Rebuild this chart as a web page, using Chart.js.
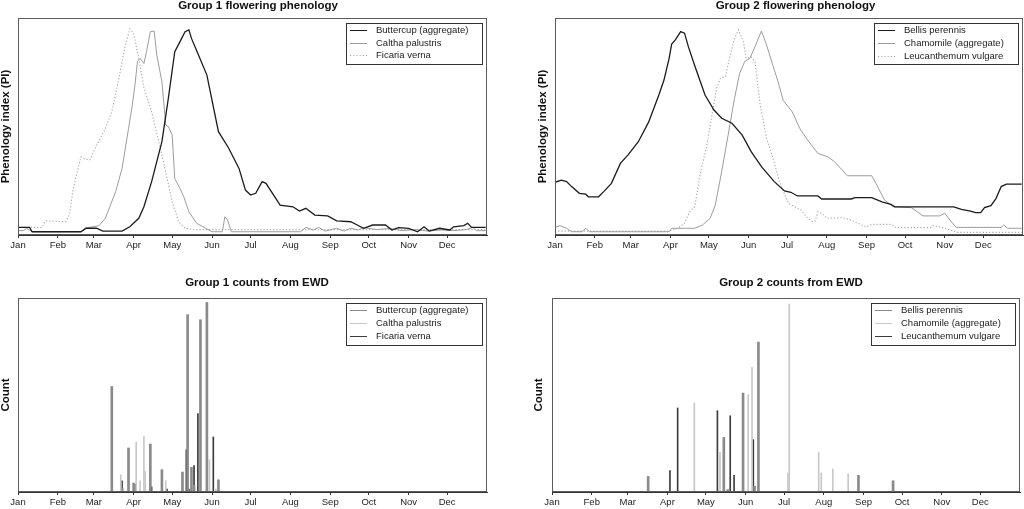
<!DOCTYPE html>
<html>
<head>
<meta charset="utf-8">
<title>Flowering phenology</title>
<script src="https://cdn.jsdelivr.net/npm/chart.js@4.4.1/dist/chart.umd.min.js"></script>
<style>
  html, body { margin: 0; padding: 0; background: #fff; overflow: hidden; }
  #page { position: relative; width: 1024px; height: 509px; overflow: hidden; }
  canvas { position: absolute; }
</style>
</head>
<body>
<div id="page">
  <canvas id="g1pheno" width="516" height="255" style="left:0;top:0"></canvas>
  <canvas id="g2pheno" width="567" height="255" style="left:512px;top:0"></canvas>
  <canvas id="g1counts" width="514" height="254" style="left:0;top:255px"></canvas>
  <canvas id="g2counts" width="558" height="254" style="left:512px;top:255px"></canvas>
</div>
<script>
const FONT = "'Liberation Sans', Arial, Helvetica, sans-serif";

// --- axis ---
const monthStarts = [1, 32, 60, 91, 121, 152, 182, 213, 244, 274, 305, 335];
const monthLabels = ['Jan', 'Feb', 'Mar', 'Apr', 'May', 'Jun', 'Jul', 'Aug', 'Sep', 'Oct', 'Nov', 'Dec'];

// --- Group 1 phenology index (day of year, PI) ---
const buttercupDays = [1, 10, 12, 50, 54, 62, 67, 82, 88, 95, 99, 105, 113, 118, 123, 127, 131, 134, 136, 140, 148, 157, 165, 173, 178, 182, 186, 191, 194, 205, 215, 220, 225, 232, 242, 249, 260, 265, 270, 277, 287, 292, 297, 305, 312, 317, 321, 329, 337, 340, 348, 351, 354, 365];
const buttercupPI = [3.5, 3.5, 1.5, 1.5, 3.1, 3.1, 1.8, 1.8, 3.8, 7.7, 13, 24.6, 43, 63, 84.5, 89, 93.7, 94.5, 90.6, 85, 73.7, 47.6, 40, 30.7, 20.7, 18.4, 19.2, 24.6, 23.8, 13.8, 13, 11, 12.3, 9.2, 8.8, 6.5, 6.1, 4.6, 3.1, 4.6, 4.6, 2.3, 3.4, 3.1, 1.5, 3.8, 1.8, 3.1, 2.3, 3.8, 4.3, 5.4, 3.5, 3.5];
const calthaDays = [1, 5, 8, 12, 50, 53, 64, 69, 77, 82, 87, 90, 92, 94, 96, 99, 101, 104, 107, 109, 113, 116, 118, 121, 123, 127, 130, 134, 140, 147, 152, 160, 162, 164, 167, 221, 225, 231, 235, 240, 249, 255, 260, 266, 270, 280, 290, 300, 310, 320, 330, 340, 350, 355, 358, 365];
const calthaPI = [2, 2, 3, 1.5, 1.5, 3.1, 4.3, 7.7, 20, 30.7, 49, 60, 69, 80, 81.4, 79, 84.5, 93.7, 94, 83, 70.6, 50.7, 50, 46, 26, 21.5, 17.6, 10.7, 5.4, 3.1, 1.5, 1.5, 8.4, 7, 1.5, 1.5, 3.5, 2.3, 3.5, 1.8, 3.1, 1.8, 3.1, 2.3, 3.4, 2.5, 3.0, 2.0, 2.5, 1.8, 2.3, 2.0, 2.5, 3.5, 2.0, 2.0];
const ficariaDays = [1, 20, 21, 23, 38, 41, 44, 50, 53, 57, 61, 69, 74, 79, 84, 88, 91, 95, 99, 105, 113, 121, 126, 131, 140, 365];
const ficariaPI = [3.5, 3.5, 5.4, 6.5, 6.1, 9.2, 21.5, 36, 35, 34.6, 40, 49, 56.8, 70.6, 86, 95, 93, 81.4, 68, 56.8, 36.9, 15.3, 6.1, 3.1, 2.5, 2.5];

// --- Group 2 phenology index ---
const bellisDays = [1, 6, 10, 14, 20, 25, 27, 35, 39, 45, 52, 58, 66, 74, 82, 86, 90, 92, 95, 99, 102, 105, 110, 118, 125, 131, 139, 147, 154, 162, 172, 180, 185, 190, 206, 209, 232, 235, 248, 256, 263, 266, 312, 318, 325, 329, 333, 336, 341, 345, 349, 353, 365];
const bellisPI = [24.3, 25.3, 24.6, 22.3, 19.2, 18.8, 17.6, 17.6, 20, 23.8, 33, 36.9, 43, 52, 64.5, 71.4, 81.4, 88, 90, 93.7, 93, 86.8, 78, 64.5, 57.6, 53.8, 51.5, 46, 38.4, 31.5, 24.6, 20.3, 19.7, 18, 18, 16.6, 16.6, 17.2, 17.2, 15.3, 14.1, 13, 13, 11.8, 11, 10.3, 10.3, 12.6, 13.5, 16.9, 22.3, 23.4, 23.4];
const chamomileDays = [1, 5, 10, 14, 22, 25, 28, 90, 92, 110, 116, 122, 126, 131, 136, 141, 145, 149, 153, 157, 162, 166, 171, 175, 179, 186, 192, 198, 206, 214, 219, 229, 248, 252, 258, 265, 279, 288, 301, 305, 309, 314, 349, 351, 354, 365];
const chamomilePI = [3.5, 4.3, 3.1, 1.5, 1.5, 3.1, 1.5, 1.5, 3.1, 3.1, 4.6, 7.7, 13.8, 29.2, 46, 63, 74.5, 80, 81.4, 86.8, 94, 87.6, 78, 70.6, 62, 56.8, 49, 43.8, 37.6, 36, 33.8, 27.3, 27.3, 23, 16.1, 13, 12.6, 8.8, 8.8, 10, 6.9, 3.5, 3.5, 4.6, 3.1, 3.1];
const leucDays = [1, 90, 97, 102, 106, 110, 114, 119, 123, 127, 130, 134, 137, 141, 144, 148, 150, 154, 157, 161, 166, 171, 176, 183, 188, 193, 198, 202, 204, 206, 209, 213, 225, 232, 240, 244, 248, 263, 267, 294, 296, 305, 315, 365];
const leucPI = [1.8, 1.8, 3.1, 5.4, 10.7, 13, 27.6, 40, 53.8, 67.6, 72.2, 73, 81.4, 90.6, 94.5, 89, 81.4, 82, 80, 60, 44.6, 35.4, 24.6, 14.6, 13, 11.5, 7.7, 6.1, 6.5, 10.7, 10, 7.7, 8, 6.9, 4.6, 3.8, 4.9, 4.9, 3.4, 3.4, 4.3, 3.1, 1.2, 1.2];

// --- Group 1 counts from EWD ---
const buttercupCountDays = [74, 87, 91, 104, 113, 129, 133, 136, 138, 143, 148, 157];
const buttercupCounts = [54.4, 22.7, 4.6, 24.7, 11.5, 10.3, 91.4, 12.7, 3.5, 88.8, 97.7, 6.3];
const calthaCountDays = [81, 83, 93, 96, 99, 100, 116, 150, 155];
const calthaCounts = [8.9, 2, 25.8, 5.8, 28.7, 10.6, 5.8, 16.6, 1.5];
const ficariaCountDays = [82, 92, 105, 117, 132, 134, 138, 141, 153];
const ficariaCounts = [5.8, 4, 2.6, 1.5, 21.8, 1.5, 13.6, 40.4, 28.4];

// --- Group 2 counts from EWD ---
const bellisCountDays = [76, 135, 138, 150, 159, 162, 240, 267];
const bellisCounts = [8, 28.1, 1.2, 51, 3, 77.3, 8.6, 5.8];
const chamomileCountDays = [112, 132, 154, 157, 185, 186, 209, 211, 220, 232];
const chamomileCounts = [45.9, 20.4, 50.2, 64.2, 9.8, 96.9, 20.4, 9.8, 11.9, 9.3];
const leucCountDays = [93, 99, 130, 140, 143, 158];
const leucCounts = [11.1, 43.3, 41.9, 39.3, 8.6, 27];

const zip = (days, vals) => days.map((d, i) => ({ x: d, y: vals[i] }));

// box round the plot region, like R's box()
const framePlugin = {
    id: 'frame',
    afterDatasetsDraw(chart) {
        const { ctx, chartArea: a } = chart;
        ctx.save();
        ctx.strokeStyle = '#5c5c5c';
        ctx.lineWidth = 1;
        ctx.strokeRect(Math.round(a.left) + 0.5, Math.round(a.top) + 0.5,
            Math.round(a.right - a.left) - 1, Math.round(a.bottom - a.top) - 1);
        ctx.restore();
    }
};

// legend in a bordered box at the top right of the plot
const boxLegendPlugin = {
    id: 'boxLegend',
    afterDraw(chart, args, opts) {
        const { ctx, chartArea: a } = chart;
        const sets = chart.data.datasets;
        const step = opts.step || 12.7;
        ctx.save();
        ctx.font = `9.5px ${FONT}`;
        const textW = Math.max(...sets.map(d => ctx.measureText(d.label).width));
        const w = Math.round(textW + 44), h = Math.round(step * 3 + 3);
        const x = Math.round(a.right - 5 - w), y = Math.round(a.top + 5);
        ctx.fillStyle = '#fff';
        ctx.fillRect(x, y, w, h);
        ctx.strokeStyle = '#333';
        ctx.lineWidth = 1;
        ctx.strokeRect(x + 0.5, y + 0.5, w, h);
        sets.forEach((d, i) => {
            const ry = Math.round(y + 7 + i * step) + 0.5;
            ctx.strokeStyle = chart.config.type === 'line' ? d.borderColor : d.backgroundColor;
            ctx.lineWidth = 1;
            ctx.setLineDash(d.borderDash || []);
            ctx.beginPath();
            ctx.moveTo(x + 4, ry);
            ctx.lineTo(x + 21, ry);
            ctx.stroke();
            ctx.setLineDash([]);
            ctx.fillStyle = '#222';
            ctx.textBaseline = 'middle';
            ctx.fillText(d.label, x + 30, ry);
        });
        ctx.restore();
    }
};

const makeOptions = (cfg) => ({
    responsive: false,
    animation: false,
    devicePixelRatio: 1,
    layout: { padding: 0 },
    plugins: {
        legend: { display: false },
        tooltip: { enabled: false },
        boxLegend: { step: cfg.legendStep },
        title: {
            display: true,
            text: cfg.title,
            color: '#111',
            font: { family: FONT, size: 11.5, weight: 'bold', lineHeight: 1 },
            padding: cfg.titlePad
        }
    },
    scales: {
        x: {
            type: 'linear',
            min: 1,
            max: 366,
            offset: false,
            afterBuildTicks: (s) => { s.ticks = monthStarts.map(v => ({ value: v })); },
            afterFit: (s) => { s.height = cfg.bottomH; },
            ticks: {
                autoSkip: false,
                maxRotation: 0,
                minRotation: 0,
                padding: 2,
                color: '#222',
                font: { family: FONT, size: 9.5 },
                callback: (v) => monthLabels[monthStarts.indexOf(v)] || ''
            },
            grid: { offset: false, drawOnChartArea: false, drawTicks: true, tickLength: 3, color: '#333' },
            border: { display: true, color: '#333' }
        },
        y: {
            min: 0,
            max: 100,
            afterFit: (s) => { s.width = cfg.leftW; },
            ticks: { display: false },
            grid: { display: false },
            border: { display: false },
            title: {
                display: true,
                text: cfg.yTitle,
                color: '#111',
                font: { family: FONT, size: 11.5, weight: 'bold', lineHeight: 1 },
                padding: { top: cfg.yTitlePad, bottom: 0 }
            }
        },
        yRight: {
            axis: 'y',
            type: 'linear',
            position: 'right',
            afterFit: (s) => { s.width = cfg.rightW; },
            ticks: { display: false },
            grid: { display: false },
            border: { display: false }
        }
    }
});

const lineSet = (label, days, vals, color, width, dash) => ({
    label, data: zip(days, vals), borderColor: color, borderWidth: width,
    borderDash: dash || [], pointRadius: 0, tension: 0, fill: false
});

const barSet = (label, days, vals, color, thick) => ({
    label, data: zip(days, vals), backgroundColor: color, borderWidth: 0,
    barThickness: thick, grouped: false
});

const phenoColors = ['#1c1c1c', '#9c9c9c', '#a6a6a6'];
const countColors = ['#8a8a8a', '#c8c8c8', '#3c3c3c'];

new Chart(document.getElementById('g1pheno'), {
    type: 'line',
    data: { datasets: [
        lineSet('Buttercup (aggregate)', buttercupDays, buttercupPI, phenoColors[0], 1.3),
        lineSet('Caltha palustris', calthaDays, calthaPI, phenoColors[1], 1),
        lineSet('Ficaria verna', ficariaDays, ficariaPI, phenoColors[2], 1.1, [1.2, 2])
    ] },
    options: makeOptions({ title: 'Group 1 flowering phenology', titlePad: { top: 0, bottom: 6.5 },
        yTitle: 'Phenology index (PI)', yTitlePad: 0, leftW: 18, rightW: 29, bottomH: 20, legendStep: 12.7 }),
    plugins: [framePlugin, boxLegendPlugin]
});

new Chart(document.getElementById('g2pheno'), {
    type: 'line',
    data: { datasets: [
        lineSet('Bellis perennis', bellisDays, bellisPI, phenoColors[0], 1.3),
        lineSet('Chamomile (aggregate)', chamomileDays, chamomilePI, phenoColors[1], 1),
        lineSet('Leucanthemum vulgare', leucDays, leucPI, phenoColors[2], 1.1, [1.2, 2])
    ] },
    options: makeOptions({ title: 'Group 2 flowering phenology', titlePad: { top: 0, bottom: 6.5 },
        yTitle: 'Phenology index (PI)', yTitlePad: 25, leftW: 43, rightW: 56, bottomH: 20, legendStep: 12.8 }),
    plugins: [framePlugin, boxLegendPlugin]
});

new Chart(document.getElementById('g1counts'), {
    type: 'bar',
    data: { datasets: [
        barSet('Buttercup (aggregate)', buttercupCountDays, buttercupCounts, countColors[0], 2),
        barSet('Caltha palustris', calthaCountDays, calthaCounts, countColors[1], 1),
        barSet('Ficaria verna', ficariaCountDays, ficariaCounts, countColors[2], 1)
    ] },
    options: makeOptions({ title: 'Group 1 counts from EWD', titlePad: { top: 22, bottom: 9.5 },
        yTitle: 'Count', yTitlePad: 0, leftW: 18, rightW: 27, bottomH: 17, legendStep: 13 }),
    plugins: [framePlugin, boxLegendPlugin]
});

new Chart(document.getElementById('g2counts'), {
    type: 'bar',
    data: { datasets: [
        barSet('Bellis perennis', bellisCountDays, bellisCounts, countColors[0], 2),
        barSet('Chamomile (aggregate)', chamomileCountDays, chamomileCounts, countColors[1], 1),
        barSet('Leucanthemum vulgare', leucCountDays, leucCounts, countColors[2], 1)
    ] },
    options: makeOptions({ title: 'Group 2 counts from EWD', titlePad: { top: 22, bottom: 9.5 },
        yTitle: 'Count', yTitlePad: 21, leftW: 40, rightW: 50, bottomH: 17, legendStep: 13 }),
    plugins: [framePlugin, boxLegendPlugin]
});
</script>
</body>
</html>
